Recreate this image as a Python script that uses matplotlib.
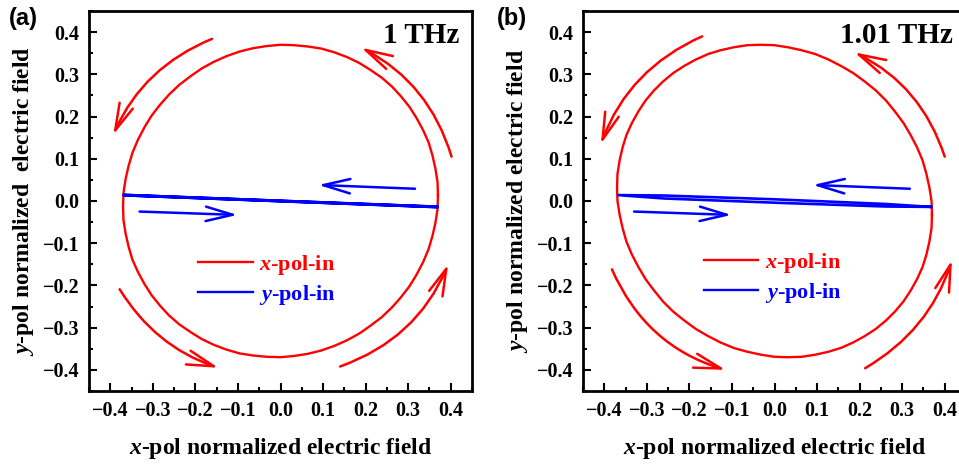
import matplotlib
matplotlib.use("Agg")
import matplotlib.pyplot as plt
from matplotlib.ticker import MultipleLocator

plt.rcParams['font.family'] = ['Liberation Serif', 'DejaVu Serif']
plt.rcParams['font.weight'] = 'bold'
plt.rcParams['mathtext.fontset'] = 'custom'
plt.rcParams['mathtext.it'] = 'Liberation Serif:bold:italic'
plt.rcParams['mathtext.rm'] = 'Liberation Serif:bold'
plt.rcParams['axes.unicode_minus'] = True

# ---------------- data ----------------
# panel (a): 1 THz, x-pol-in trajectory
xa_red = [0.370, 0.369, 0.364, 0.357, 0.348, 0.335, 0.320, 0.303, 0.283, 0.262,
          0.238, 0.212, 0.185, 0.156, 0.127, 0.096, 0.064, 0.032, 0.000,
          -0.032, -0.064, -0.096, -0.127, -0.156, -0.185, -0.212, -0.238, -0.262,
          -0.283, -0.303, -0.320, -0.335, -0.348, -0.357, -0.364, -0.369, -0.370,
          -0.369, -0.364, -0.357, -0.348, -0.335, -0.320, -0.303, -0.283, -0.262,
          -0.238, -0.212, -0.185, -0.156, -0.127, -0.096, -0.064, -0.032, 0.000,
          0.032, 0.064, 0.096, 0.127, 0.156, 0.185, 0.212, 0.238, 0.262,
          0.283, 0.303, 0.320, 0.335, 0.348, 0.357, 0.364, 0.369, 0.370]
ya_red = [0.013, 0.045, 0.077, 0.108, 0.139, 0.168, 0.196, 0.223, 0.248, 0.271,
          0.292, 0.310, 0.327, 0.341, 0.352, 0.361, 0.366, 0.369, 0.370,
          0.367, 0.362, 0.354, 0.343, 0.330, 0.314, 0.295, 0.275, 0.252,
          0.228, 0.202, 0.174, 0.145, 0.114, 0.083, 0.052, 0.019, -0.013,
          -0.045, -0.077, -0.108, -0.139, -0.168, -0.196, -0.223, -0.248, -0.271,
          -0.292, -0.310, -0.327, -0.341, -0.352, -0.361, -0.366, -0.369, -0.370,
          -0.367, -0.362, -0.354, -0.343, -0.330, -0.314, -0.295, -0.275, -0.252,
          -0.228, -0.202, -0.174, -0.145, -0.114, -0.083, -0.052, -0.019, 0.013]
# panel (a): y-pol-in trajectory
xa_blue = [0.368, 0.000, -0.368, 0.000, 0.368]
ya_blue = [-0.014, 0.000, 0.014, 0.000, -0.014]

# panel (b): 1.01 THz, x-pol-in trajectory
xb_red = [0.370, 0.369, 0.364, 0.357, 0.348, 0.335, 0.320, 0.303, 0.283, 0.262,
          0.238, 0.212, 0.185, 0.156, 0.127, 0.096, 0.064, 0.032, 0.000,
          -0.032, -0.064, -0.096, -0.127, -0.156, -0.185, -0.212, -0.238, -0.262,
          -0.283, -0.303, -0.320, -0.335, -0.348, -0.357, -0.364, -0.369, -0.370,
          -0.369, -0.364, -0.357, -0.348, -0.335, -0.320, -0.303, -0.283, -0.262,
          -0.238, -0.212, -0.185, -0.156, -0.127, -0.096, -0.064, -0.032, 0.000,
          0.032, 0.064, 0.096, 0.127, 0.156, 0.185, 0.212, 0.238, 0.262,
          0.283, 0.303, 0.320, 0.335, 0.348, 0.357, 0.364, 0.369, 0.370]
yb_red = [-0.032, 0.000, 0.032, 0.064, 0.096, 0.127, 0.156, 0.185, 0.212, 0.238,
          0.262, 0.283, 0.303, 0.320, 0.335, 0.348, 0.357, 0.364, 0.369,
          0.370, 0.369, 0.364, 0.357, 0.348, 0.335, 0.320, 0.303, 0.283,
          0.262, 0.238, 0.212, 0.185, 0.156, 0.127, 0.096, 0.064, 0.032,
          0.000, -0.032, -0.064, -0.096, -0.127, -0.156, -0.185, -0.212, -0.238,
          -0.262, -0.283, -0.303, -0.320, -0.335, -0.348, -0.357, -0.364, -0.369,
          -0.370, -0.369, -0.364, -0.357, -0.348, -0.335, -0.320, -0.303, -0.283,
          -0.262, -0.238, -0.212, -0.185, -0.156, -0.127, -0.096, -0.064, -0.032]
# panel (b): y-pol-in trajectory
xb_blue = [0.368, 0.260, 0.000, -0.260, -0.368, -0.260, 0.000, 0.260, 0.368]
yb_blue = [-0.014, -0.007, 0.004, 0.013, 0.014, 0.006, -0.004, -0.013, -0.014]

ticks = [-0.4, -0.3, -0.2, -0.1, 0.0, 0.1, 0.2, 0.3, 0.4]

# arrows: (start, end, arc rad)
arrows_a_red = [((-0.161, 0.384), (-0.393, 0.157), 0.20),
                ((0.402, 0.105), (0.190, 0.363), 0.21),
                ((-0.378, -0.209), (-0.146, -0.395), 0.18),
                ((0.140, -0.392), (0.394, -0.150), 0.22)]
arrows_a_blue = [((0.316, 0.029), (0.089, 0.038)),
                 ((-0.331, -0.025), (-0.101, -0.033))]
arrows_b_red = [((-0.170, 0.390), (-0.408, 0.135), 0.21),
                ((0.400, 0.105), (0.188, 0.352), 0.21),
                ((-0.382, -0.162), (-0.115, -0.400), 0.23),
                ((0.213, -0.396), (0.417, -0.140), 0.19)]
arrows_b_blue = [((0.318, 0.029), (0.090, 0.038)),
                 ((-0.330, -0.025), (-0.101, -0.033))]

RED = '#FF0000'
BLUE = '#0000FF'
HEAD = '->,head_length=0.97,head_width=0.26'

fig = plt.figure(figsize=(9.59, 4.66), dpi=100)

panels = [
    dict(pos=[89/959, 75/466, 383/959, 380/466], xr=xa_red, yr=ya_red, xbl=xa_blue, ybl=ya_blue,
         ar=arrows_a_red, ab=arrows_a_blue, freq='1 THz', tag='(a)', tagx=9/959,
         ylabel='$y$-pol normalized  electric field', leg=(0.285, 0.363), blw=2.2),
    dict(pos=[583/959, 75/466, 383/959, 380/466], xr=xb_red, yr=yb_red, xbl=xb_blue, ybl=yb_blue,
         ar=arrows_b_red, ab=arrows_b_blue, freq='1.01 THz', tag='(b)', tagx=497/959,
         ylabel='$y$-pol normalized electric field', leg=(0.316, 0.368), blw=1.9),
]

for p in panels:
    ax = fig.add_axes(p['pos'])
    ax.plot(p['xr'], p['yr'], color=RED, lw=1.7, label='$x$-pol-in')
    ax.plot(p['xbl'], p['ybl'], color=BLUE, lw=p['blw'], label='$y$-pol-in')
    ax.set_xlim(-0.45, 0.45)
    ax.set_ylim(-0.45, 0.45)
    ax.set_xticks(ticks)
    ax.set_yticks(ticks)
    ax.xaxis.set_minor_locator(MultipleLocator(0.05))
    ax.yaxis.set_minor_locator(MultipleLocator(0.05))
    ax.tick_params(which='both', direction='in', top=False, right=False, width=1.5, color='black')
    ax.tick_params(which='major', length=6, labelsize=14.5, pad=7)
    ax.tick_params(which='minor', length=3)
    for lab in ax.get_xticklabels() + ax.get_yticklabels():
        lab.set_fontweight('bold')
    for s in ax.spines.values():
        s.set_linewidth(2.0)
    ax.set_xlabel('$x$-pol normalized electric field', fontsize=17, fontweight='bold', labelpad=11)
    ax.set_ylabel(p['ylabel'], fontsize=17, fontweight='bold', labelpad=5)

    for (s, e, rad) in p['ar']:
        ax.annotate('', xy=e, xytext=s,
                    arrowprops=dict(arrowstyle=HEAD,
                                    connectionstyle=f'arc3,rad={rad}', lw=1.8, color=RED,
                                    shrinkA=0, shrinkB=0, mutation_scale=20))
    for (s, e) in p['ab']:
        ax.annotate('', xy=e, xytext=s,
                    arrowprops=dict(arrowstyle=HEAD,
                                    lw=1.8, color=BLUE, shrinkA=0, shrinkB=0, mutation_scale=20))

    ax.text(0.966, 0.916, p['freq'], transform=ax.transAxes, ha='right', va='baseline',
            fontsize=21, fontweight='bold', color='black')
    fig.text(p['tagx'], 0.986, p['tag'], ha='left', va='top', fontsize=17, fontweight='bold',
             family=['Liberation Sans', 'DejaVu Sans'])

    leg = ax.legend(loc='upper left', bbox_to_anchor=p['leg'], frameon=False, fontsize=16,
                    handlelength=2.45, handletextpad=0.3, labelspacing=0.25,
                    borderpad=0, borderaxespad=0, labelcolor='linecolor')
    for line in leg.get_lines():
        line.set_linewidth(1.7)
    for t in leg.get_texts():
        t.set_fontweight('bold')

fig.savefig('out.png', dpi=100)
